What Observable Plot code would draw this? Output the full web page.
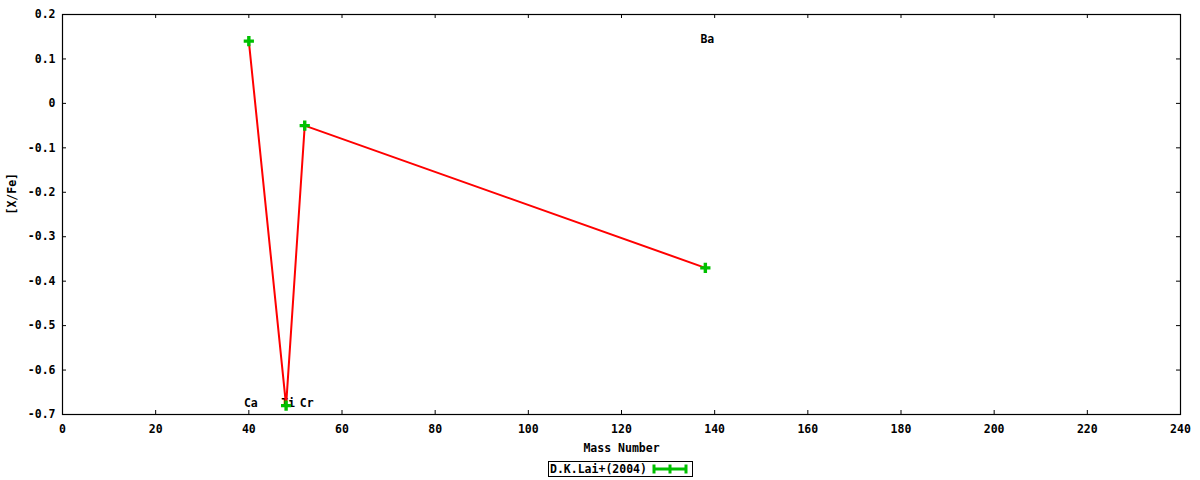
<!DOCTYPE html>
<html>
<head>
<meta charset="utf-8">
<script src="https://cdn.jsdelivr.net/npm/d3@7"></script>
<script src="https://cdn.jsdelivr.net/npm/@observablehq/plot@0.6"></script>
<style>
  body { margin: 0; background: #fff; font-family: "DejaVu Sans Mono", monospace; }
  #wrap { position: relative; width: 1200px; height: 480px; }
  #legend { position: absolute; left: 548px; top: 461px; width: 143px; height: 14px;
    border: 1px solid #000; box-sizing: content-box; background: #fff;
    font: bold 11.5px "DejaVu Sans Mono", monospace; }
  #legend span { position: absolute; left: 1px; top: -1px; line-height: 16px; }
  #legend svg { position: absolute; left: 101px; top: 0; }
</style>
</head>
<body>
<div id="wrap">
  <div id="chart"></div>
  <div id="legend"><span id="legtext"></span><svg width="40" height="14"></svg></div>
</div>
<script>
// Data
const elements = ["Ca", "Ti", "Cr", "Ba"];
const masses = [40, 48, 52, 138];
const values = [0.14, -0.68, -0.05, -0.37];
const labelMasses = [40, 48, 52, 138];
const labelValues = [-0.675, -0.675, -0.675, 0.145];
const xTicks = [0, 20, 40, 60, 80, 100, 120, 140, 160, 180, 200, 220, 240];
const yTicks = [-0.7, -0.6, -0.5, -0.4, -0.3, -0.2, -0.1, 0, 0.1, 0.2];
const xTitle = "Mass Number";
const yTitle = "[X/Fe]";
const seriesName = "D.K.Lai+(2004)";

const points = masses.map((m, i) => ({mass: m, value: values[i]}));
const labels = elements.map((e, i) => ({el: e, mass: labelMasses[i], value: labelValues[i]}));

const font = "DejaVu Sans Mono";
const green = "#00c000";
const W = 1200, H = 455, mL = 62, mR = 20, mT = 14, mB = 41;
const innerH = H - mT - mB, innerW = W - mL - mR;
const tk = 4;

const chart = Plot.plot({
  width: W, height: H,
  marginLeft: mL, marginRight: mR, marginTop: mT, marginBottom: mB,
  style: {fontFamily: font, fontSize: "11.5px", fontWeight: "bold", color: "#000", background: "#fff"},
  x: {domain: [0, 240]},
  y: {domain: [-0.7, 0.2]},
  marks: [
    // inward ticks (bottom, top, left, right)
    Plot.tickX(xTicks, {x: d => d, stroke: "#000", insetTop: innerH - tk}),
    Plot.tickX(xTicks, {x: d => d, stroke: "#000", insetBottom: innerH - tk}),
    Plot.tickY(yTicks, {y: d => d, stroke: "#000", insetRight: innerW - tk}),
    Plot.tickY(yTicks, {y: d => d, stroke: "#000", insetLeft: innerW - tk}),
    Plot.frame({stroke: "#000", strokeWidth: 1.2}),
    Plot.axisX({ticks: xTicks, tickSize: 0, tickPadding: 10, tickFormat: d => String(d), fontWeight: "bold", label: null}),
    Plot.axisY({ticks: yTicks, tickSize: 0, tickPadding: 7, tickFormat: d => d === 0 ? "0" : d.toFixed(1), fontWeight: "bold", label: null}),
    Plot.text([xTitle], {text: d => d, frameAnchor: "bottom", dy: 37, fontWeight: "bold"}),
    Plot.text([yTitle], {text: d => d, frameAnchor: "left", dx: -50, rotate: -90, fontWeight: "bold"}),
    Plot.text(labels, {x: "mass", y: "value", text: "el", dx: 2, fontWeight: "bold", fill: "#000"}),
    Plot.line(points, {x: "mass", y: "value", stroke: "#ff0000", strokeWidth: 2}),
    Plot.dot(points, {x: "mass", y: "value", symbol: "cross", r: 4.3, fill: green, stroke: "none"})
  ]
});
document.getElementById("chart").appendChild(chart);

// legend
document.getElementById("legtext").textContent = seriesName;
const ls = d3.select("#legend svg");
ls.append("line").attr("x1", 3).attr("x2", 37).attr("y1", 7).attr("y2", 7).attr("stroke", green).attr("stroke-width", 3);
[4, 20, 36].forEach(x => ls.append("line").attr("x1", x).attr("x2", x).attr("y1", 2.5).attr("y2", 11.5).attr("stroke", green).attr("stroke-width", 3));
</script>
</body>
</html>
